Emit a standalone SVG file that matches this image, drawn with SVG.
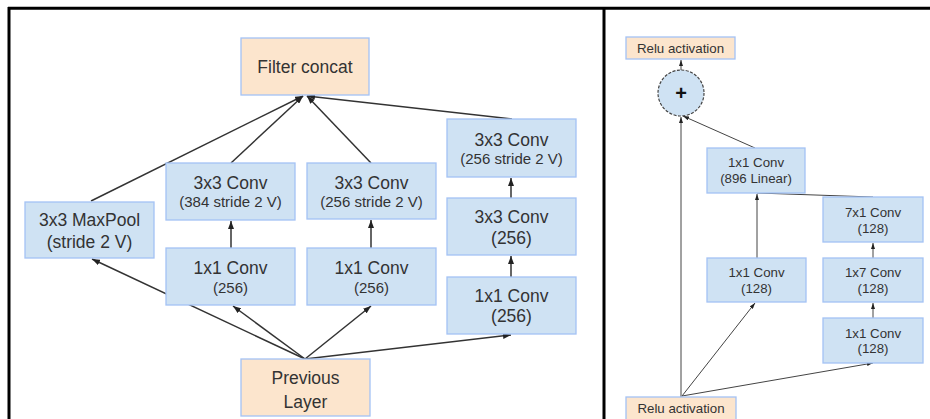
<svg xmlns="http://www.w3.org/2000/svg" width="930" height="419" viewBox="0 0 930 419">
  <defs>
    <style>
      .blue { fill: #cfe2f3; stroke: #a4c2f4; stroke-width: 1.3; }
      .peach { fill: #fce5cd; stroke: #a4c2f4; stroke-width: 1.3; }
      .frame { stroke: #000; stroke-width: 3; fill: none; }
      text { font-family: "Liberation Sans", Arial, sans-serif; fill: #333; text-anchor: middle; }
      .big { font-size: 17.5px; }
      .sub { font-size: 15px; }
      .sm { font-size: 13.3px; }
      .edge { fill: none; stroke: #333; stroke-width: 1.5; }
      .edge2 { fill: none; stroke: #444; stroke-width: 1; }
    </style>
    <marker id="arr" viewBox="0 0 8 6" refX="8" refY="3" markerWidth="8" markerHeight="6" markerUnits="userSpaceOnUse" orient="auto">
      <path d="M0,0 L8,3 L0,6 z" fill="#222"/>
    </marker>
    <marker id="arr2" viewBox="0 0 6 4" refX="6" refY="2" markerWidth="6" markerHeight="4" markerUnits="userSpaceOnUse" orient="auto">
      <path d="M0,0 L6,2 L0,4 z" fill="#222"/>
    </marker>
  </defs>

  <rect width="930" height="419" fill="#fff"/>

  <!-- page frame -->
  <g id="frame">
    <line class="frame" x1="8" y1="8.3" x2="930" y2="8.3" stroke-width="2.5"/>
    <line class="frame" x1="9" y1="7" x2="9" y2="419"/>
    <line class="frame" x1="604" y1="7" x2="604" y2="419"/>
  </g>

  <!-- connectors -->
  <g id="connectors">
    <!-- Inception-ResNet reduction block -->
    <path class="edge" d="M91,201 L303,96" marker-end="url(#arr)"/>
    <path class="edge" d="M231,163 L303,96" marker-end="url(#arr)"/>
    <path class="edge" d="M371,163 L307,96" marker-end="url(#arr)"/>
    <path class="edge" d="M512,119 L307,96" marker-end="url(#arr)"/>
    <path class="edge" d="M231,248 L231,221" marker-end="url(#arr)"/>
    <path class="edge" d="M371,248 L371,220" marker-end="url(#arr)"/>
    <path class="edge" d="M511,198 L511,178" marker-end="url(#arr)"/>
    <path class="edge" d="M511,277 L511,256" marker-end="url(#arr)"/>
    <path class="edge" d="M305,359 L92,259" marker-end="url(#arr)"/>
    <path class="edge" d="M305,359 L233,306" marker-end="url(#arr)"/>
    <path class="edge" d="M305,359 L371,306" marker-end="url(#arr)"/>
    <path class="edge" d="M305,359 L511,335" marker-end="url(#arr)"/>

    <!-- residual block -->
    <path class="edge2" d="M681,70 L681,60" marker-end="url(#arr2)"/>
    <path class="edge2" d="M755,148 L683,116" marker-end="url(#arr2)"/>
    <path class="edge2" d="M681,397 L681,117" marker-end="url(#arr2)"/>
    <path class="edge2" d="M757,258 L757,194" marker-end="url(#arr2)"/>
    <path class="edge2" d="M873,197 L757,193"/>
    <path class="edge2" d="M873,258 L873,243" marker-end="url(#arr2)"/>
    <path class="edge2" d="M873,318 L873,303" marker-end="url(#arr2)"/>
    <path class="edge2" d="M682,396 L755,303" marker-end="url(#arr2)"/>
    <path class="edge2" d="M682,396 L873,363" marker-end="url(#arr2)"/>
  </g>

  <!-- left block nodes -->
  <g id="filter-concat">
    <rect class="peach" x="241" y="38" width="128" height="57"/>
    <text class="big" x="305" y="73">Filter concat</text>
  </g>
  <g id="maxpool">
    <rect class="blue" x="25" y="202" width="129" height="56"/>
    <text class="big" x="89.5" y="226">3x3 MaxPool</text>
    <text class="big" x="89.5" y="248">(stride 2 V)</text>
  </g>
  <g id="conv3x3-384">
    <rect class="blue" x="166" y="163" width="129" height="57"/>
    <text class="big" x="230.5" y="189">3x3 Conv</text>
    <text class="sub" x="230.5" y="207">(384 stride 2 V)</text>
  </g>
  <g id="conv1x1-a">
    <rect class="blue" x="166" y="248" width="129" height="57"/>
    <text class="big" x="230.5" y="274">1x1 Conv</text>
    <text class="sub" x="230.5" y="292.5">(256)</text>
  </g>
  <g id="conv3x3-256-mid">
    <rect class="blue" x="307" y="163" width="129" height="56"/>
    <text class="big" x="371.5" y="189">3x3 Conv</text>
    <text class="sub" x="371.5" y="207">(256 stride 2 V)</text>
  </g>
  <g id="conv1x1-b">
    <rect class="blue" x="307" y="248" width="129" height="57"/>
    <text class="big" x="371.5" y="274">1x1 Conv</text>
    <text class="sub" x="371.5" y="292.5">(256)</text>
  </g>
  <g id="conv3x3-256-top">
    <rect class="blue" x="447" y="119" width="129" height="58"/>
    <text class="big" x="511.5" y="146">3x3 Conv</text>
    <text class="sub" x="511.5" y="163.5">(256 stride 2 V)</text>
  </g>
  <g id="conv3x3-256">
    <rect class="blue" x="447" y="198" width="129" height="57"/>
    <text class="big" x="511.5" y="223">3x3 Conv</text>
    <text class="big" x="511.5" y="244">(256)</text>
  </g>
  <g id="conv1x1-c">
    <rect class="blue" x="447" y="277" width="129" height="57"/>
    <text class="big" x="511.5" y="302">1x1 Conv</text>
    <text class="big" x="511.5" y="322">(256)</text>
  </g>
  <g id="previous-layer">
    <rect class="peach" x="241" y="359" width="129" height="57"/>
    <text class="big" x="305.5" y="384">Previous</text>
    <text class="big" x="305.5" y="408">Layer</text>
  </g>

  <!-- right block nodes -->
  <g id="relu-out">
    <rect class="peach" x="626" y="37" width="109" height="22"/>
    <text class="sm" x="680.5" y="53">Relu activation</text>
  </g>
  <g id="sum">
    <circle cx="681" cy="93" r="23" fill="#cfe2f3" stroke="#444" stroke-width="1.2" stroke-dasharray="3 1.5"/>
    <text x="681" y="100" style="font-size:20px;font-weight:bold;fill:#111">+</text>
  </g>
  <g id="conv1x1-linear">
    <rect class="blue" x="707" y="148" width="98" height="45"/>
    <text class="sm" x="756" y="166.5">1x1 Conv</text>
    <text class="sm" x="756" y="182.5">(896 Linear)</text>
  </g>
  <g id="conv7x1">
    <rect class="blue" x="823" y="197" width="100" height="45"/>
    <text class="sm" x="873" y="216.5">7x1 Conv</text>
    <text class="sm" x="873" y="233">(128)</text>
  </g>
  <g id="conv1x7">
    <rect class="blue" x="823" y="258" width="100" height="44"/>
    <text class="sm" x="873" y="276.5">1x7 Conv</text>
    <text class="sm" x="873" y="293">(128)</text>
  </g>
  <g id="conv1x1-128-right">
    <rect class="blue" x="823" y="318" width="100" height="45"/>
    <text class="sm" x="873" y="337.5">1x1 Conv</text>
    <text class="sm" x="873" y="353">(128)</text>
  </g>
  <g id="conv1x1-128-left">
    <rect class="blue" x="707" y="258" width="99" height="44"/>
    <text class="sm" x="756.5" y="276.5">1x1 Conv</text>
    <text class="sm" x="756.5" y="293">(128)</text>
  </g>
  <g id="relu-in">
    <rect class="peach" x="626" y="397" width="110" height="24"/>
    <text class="sm" x="681" y="413">Relu activation</text>
  </g>
</svg>
